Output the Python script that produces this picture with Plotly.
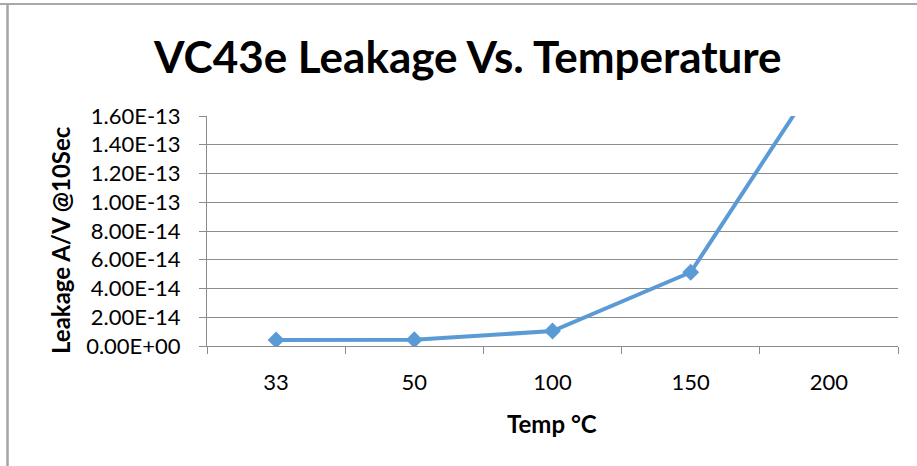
import plotly.graph_objects as go

categories = ["33", "50", "100", "150", "200"]
leakage = [4.2e-15, 4.3e-15, 1.04e-14, 5.13e-14, 1.98e-13]
y_ticks = [i * 2e-14 for i in range(9)]
y_ticktext = [f"{v:.2E}" for v in y_ticks]

W, H = 917, 466
ML, MR, MT, MB = 207, 19, 116, 120
pw = W - ML - MR
ph = H - MT - MB

def px_x(x):
    return (x - ML) / pw

def px_y(y):
    return (H - MB - y) / ph

FONT = "Lato"
BLUE = "#5B9BD5"
GRID = "#8C8C8C"

fig = go.Figure()
fig.add_trace(go.Scatter(
    x=categories, y=leakage, mode="lines+markers",
    line=dict(color=BLUE, width=4),
    marker=dict(symbol="diamond", size=13, color=BLUE),
    showlegend=False,
))

fig.update_layout(
    width=W, height=H,
    margin=dict(l=ML, r=MR, t=MT, b=MB),
    paper_bgcolor="white", plot_bgcolor="white",
    font=dict(family=FONT, color="black"),
    xaxis=dict(
        type="category", range=[-0.5, 4.5],
        showgrid=False, showline=True, linecolor=GRID, linewidth=1,
        ticks="outside", ticklen=7, tickcolor=GRID, tickson="boundaries",
        tickfont=dict(size=22, family=FONT), ticklabelstandoff=17,
    ),
    yaxis=dict(
        range=[0, 1.6e-13], tickvals=y_ticks, ticktext=y_ticktext,
        showgrid=True, gridcolor=GRID, gridwidth=1,
        showline=True, linecolor=GRID, linewidth=1,
        ticks="outside", ticklen=7, tickcolor=GRID,
        tickfont=dict(size=22, family=FONT), ticklabelstandoff=14,
        zeroline=False,
    ),
    annotations=[
        dict(text="<b>VC43e Leakage Vs. Temperature</b>", xref="paper", yref="paper",
             x=px_x(467), y=px_y(56), xanchor="center", yanchor="middle",
             showarrow=False, font=dict(size=44, family=FONT)),
        dict(text="<b>Leakage A/V @10Sec</b>", xref="paper", yref="paper",
             x=px_x(60), y=px_y(240), xanchor="center", yanchor="middle",
             textangle=-90, showarrow=False, font=dict(size=24, family=FONT)),
        dict(text="<b>Temp °C</b>", xref="paper", yref="paper",
             x=px_x(552), y=px_y(423), xanchor="center", yanchor="middle",
             showarrow=False, font=dict(size=24, family=FONT)),
    ],
    shapes=[
        dict(type="line", xref="paper", yref="paper",
             x0=px_x(0), x1=px_x(W), y0=px_y(4), y1=px_y(4),
             line=dict(color="#8C8C8C", width=1.5)),
        dict(type="line", xref="paper", yref="paper",
             x0=px_x(7.5), x1=px_x(7.5), y0=px_y(4), y1=px_y(H),
             line=dict(color="#A6A6A6", width=2.5)),
    ],
)

fig.write_html("out.html", config={"displayModeBar": False},
               post_script="document.body.style.margin='0';")
